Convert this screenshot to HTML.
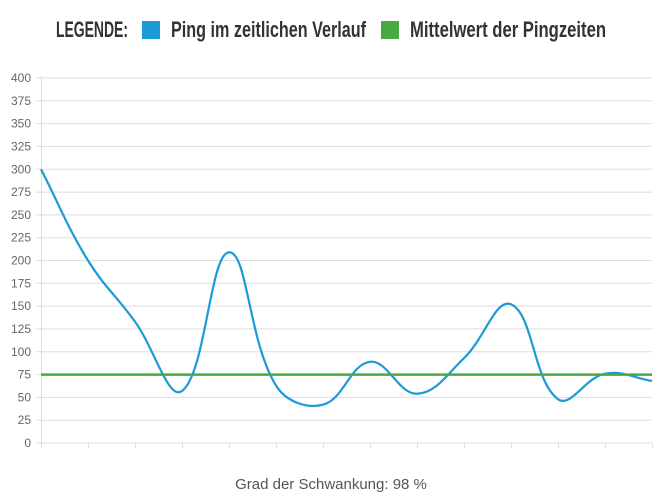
<!DOCTYPE html>
<html><head><meta charset="utf-8"><style>
body{margin:0;background:#fff;width:662px;height:503px;overflow:hidden;font-family:"Liberation Sans",sans-serif}
.lg{position:absolute;top:17px;font-size:22px;font-weight:bold;color:#333;white-space:nowrap;transform-origin:left top}
.sq{position:absolute;top:21px;width:18px;height:18px}
</style></head><body>
<div class="lg" style="left:56px" data-w="72">LEGENDE:</div>
<div class="sq" style="left:142px;background:#1a9ad6"></div>
<div class="lg" style="left:171px" data-w="195">Ping im zeitlichen Verlauf</div>
<div class="sq" style="left:381px;background:#46a942"></div>
<div class="lg" style="left:410px" data-w="196">Mittelwert der Pingzeiten</div>
<svg id="s" width="662" height="503" style="position:absolute;left:0;top:0"></svg>
<div style="position:absolute;top:476px;left:0;width:662px;text-align:center;font-size:15px;color:#555">Grad der Schwankung: 98 %</div>
<script>
document.querySelectorAll('.lg').forEach(function(e){var w=e.getBoundingClientRect().width;e.style.transform='scaleX('+(e.getAttribute('data-w')/w)+')';});
var s=document.getElementById('s'),h='';
function Y(v){return 443-v*0.9125;}
for(var v=0;v<=400;v+=25){var y=Y(v).toFixed(1);h+='<line x1="36" x2="652" y1="'+y+'" y2="'+y+'" stroke="#ddd"/>';
h+='<text x="31" y="'+(+y+4)+'" text-anchor="end" font-size="12" fill="#666" font-family="Liberation Sans,sans-serif">'+v+'</text>';}
h+='<line x1="41.5" x2="41.5" y1="76" y2="448" stroke="#ddd"/>';
for(var i=0;i<14;i++){var x=41+i*47;h+='<line x1="'+(x+0.5)+'" x2="'+(x+0.5)+'" y1="443" y2="448" stroke="#ddd"/>';}
var d=[300,200,133,57,209,63,42,89,54,93,152,48,76,68],p=d.map(function(v,i){return[41+i*47,Y(v)]});
var path='M'+p[0][0]+','+p[0][1],t=0.4;
function cp(i){var a=p[Math.max(i-1,0)],b=p[i],c=p[Math.min(i+1,p.length-1)];
var d01=Math.hypot(b[0]-a[0],b[1]-a[1]),d12=Math.hypot(c[0]-b[0],c[1]-b[1]);
var fa=t*d01/(d01+d12||1),fb=t*d12/(d01+d12||1);
return{p:[b[0]-fa*(c[0]-a[0]),b[1]-fa*(c[1]-a[1])],n:[b[0]+fb*(c[0]-a[0]),b[1]+fb*(c[1]-a[1])]};}
for(var i=1;i<p.length;i++){var A=cp(i-1),B=cp(i);path+=' C'+A.n.join(',')+' '+B.p.join(',')+' '+p[i].join(',');}
h+='<path d="'+path+'" fill="none" stroke="#1a9ad6" stroke-width="2.2"/>';
h+='<line x1="41" x2="652" y1="'+Y(75)+'" y2="'+Y(75)+'" stroke="#46a942" stroke-width="2.5"/>';
s.innerHTML=h;
</script>
</body></html>
